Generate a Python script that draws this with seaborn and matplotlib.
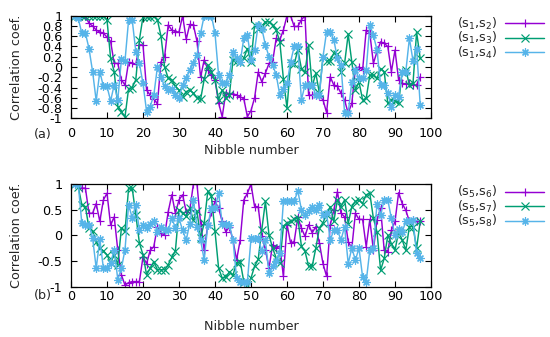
import numpy as np
import pandas as pd
import matplotlib
matplotlib.use("Agg")
import matplotlib.pyplot as plt
import seaborn as sns

# ---------------- data ----------------
s1_s2 = [1.0, 1.0, 1.0, 1.0, 0.85, 0.8, 0.72, 0.68, 0.66, 0.58,
         0.5, 0.07, 0.07, -0.25, -0.35, 0.1, 0.07, 0.05, 0.43, 0.43,
         -0.45, -0.55, -0.62, -0.72, 0.1, 0.2, 0.82, 0.72, 0.69, 0.68,
         1.0, 0.54, 0.83, 0.82, 0.5, -0.2, 0.14, -0.05, -0.16, -0.25,
         -0.7, -0.97, -0.5, -0.52, -0.52, -0.55, -0.58, -0.62, -0.97, -0.85,
         -0.6, -0.1, -0.29, -0.12, 0.07, 0.1, 0.56, 0.53, 0.72, 1.0,
         1.0, 0.79, 0.79, 0.92, 1.0, -0.55, -0.55, -0.55, -0.57, -0.64,
         -0.89, -0.19, -0.35, -0.38, -0.51, -0.65, -0.9, -0.71, -0.03, 0.0,
         -0.06, 0.72, 0.66, 0.07, 0.3, 0.49, 0.46, 0.4, -0.09, 0.33,
         -0.25, -0.32, -0.33, -0.32, -0.35, -0.35, -0.19]
s1_s3 = [1.0, 1.0, 1.0, 1.0, 1.0, 1.0, 1.0, 1.0, 1.0, 0.92,
         0.17, -0.09, -0.77, -0.87, -0.97, -0.42, -0.4, -0.25, 0.53, 0.98,
         0.98, 0.98, 1.0, 0.92, 0.6, 0.0, -0.22, -0.25, -0.38, -0.45,
         -0.58, -0.48, -0.45, -0.51, -0.6, -0.63, -0.24, 0.04, -0.09, -0.25,
         -0.64, -0.45, -0.6, -0.55, 0.14, 0.12, 0.1, 0.17, 0.36, 0.1,
         0.82, 0.75, 0.8, 0.88, 0.88, 0.82, 0.72, 0.49, -0.23, -0.8,
         0.07, 0.05, 0.34, -0.03, -0.1, 0.43, -0.38, -0.12, -0.51, 0.2,
         0.12, 0.12, 0.27, 0.25, -0.09, 0.07, 0.64, 0.1, -0.45, -0.29,
         -0.64, -0.61, -0.16, -0.16, -0.22, -0.03, -0.09, -0.71, -0.64, -0.66,
         -0.71, -0.09, -0.05, -0.35, -0.32, 0.68, 0.17]
s1_s4 = [1.0, 0.95, 0.66, 0.66, 0.36, -0.09, -0.66, -0.09, -0.38, -0.38,
         -0.66, -0.35, -0.64, 0.15, 0.12, 0.92, 0.92, 0.3, 0.07, -0.32,
         -0.87, -0.77, -0.55, 0.0, -0.19, -0.38, -0.45, -0.42, -0.55, -0.6,
         -0.35, -0.22, -0.06, 0.07, 0.23, 0.66, 1.0, 1.0, 1.0, 0.66,
         -0.16, -0.31, -0.31, -0.16, 0.3, 0.17, 0.1, 0.56, 0.62, 0.14,
         0.33, 0.82, 0.75, 0.43, 0.2, 0.04, -0.15, -0.55, -0.42, -0.32,
         0.1, 0.4, 0.4, -0.64, -0.35, -0.35, -0.35, -0.55, -0.55, 0.2,
         0.69, 0.69, 0.53, 0.17, 0.04, -0.9, -0.9, -0.29, -0.06, -0.22,
         -0.22, -0.06, 0.82, 0.62, 0.33, -0.35, -0.35, -0.51, -0.77, -0.55,
         -0.58, -0.09, -0.09, 0.56, 0.12, 0.36, -0.74]

s5_s6 = [1.0, 1.0, 0.92, 0.92, 0.43, 0.43, 0.62, 0.27, 0.69, 0.82,
         0.2, 0.36, -0.29, -0.77, -0.97, -0.92, -0.9, -0.9, -0.9, -0.42,
         -0.55, -0.29, -0.22, 0.17, 0.05, 0.0, 0.46, 0.79, 0.43, 0.69,
         0.79, 0.46, 0.5, 1.0, 1.0, 0.23, -0.29, 0.2, 0.46, 0.66,
         0.53, 0.27, 0.07, 0.17, -0.1, -0.48, -0.09, 0.69, 0.82, 1.0,
         0.56, 0.56, -0.02, -0.28, -0.64, -0.18, -0.25, -0.21, -0.8, 0.21,
         -0.15, -0.12, 0.35, 0.14, -0.02, 0.21, 0.05, 0.17, -0.15, -0.55,
         -0.8, 0.2, 0.49, 0.85, 0.43, 0.36, -0.12, -0.25, 0.43, 0.31,
         0.31, -0.22, 0.31, -0.29, 0.3, 0.53, -0.29, -0.32, 0.1, 0.27,
         0.83, 0.62, 0.49, 0.27, 0.3, 0.27, 0.27]
s5_s7 = [1.0, 0.95, 0.6, 0.56, 0.14, 0.08, -0.12, -0.25, -0.3, -0.38,
         -0.54, -0.38, -0.57, 0.14, 0.08, 0.92, 0.92, 0.4, -0.15, -0.38,
         -0.77, -0.64, -0.51, -0.67, -0.67, -0.67, -0.57, -0.43, -0.3, 0.5,
         0.44, 0.37, 0.53, 0.3, 0.47, -0.05, 0.24, 0.86, 0.76, 0.08,
         -0.64, -0.83, -0.82, -0.71, -0.77, -0.54, -0.51, -0.9, -0.96, -0.83,
         -0.6, -0.47, 0.11, 0.66, 0.01, -0.25, -0.44, -0.54, 0.18, 0.24,
         0.27, 0.31, 0.34, -0.21, -0.31, -0.6, -0.6, -0.25, 0.14, 0.25,
         0.4, 0.56, 0.27, 0.69, 0.56, 0.69, 0.23, 0.56, 0.66, 0.69,
         0.62, 0.79, 0.82, 0.33, 0.07, -0.68, -0.45, 0.0, -0.16, -0.29,
         0.07, -0.09, -0.29, 0.17, 0.17, -0.25, 0.27]
s5_s8 = [1.0, 1.0, 0.24, 0.21, 0.21, -0.05, -0.64, -0.08, -0.64, -0.64,
         -0.54, -0.28, -0.86, -0.64, -0.28, 0.6, 0.34, 0.6, 0.1, 0.2,
         0.14, 0.23, 0.27, 0.07, 0.17, 0.1, 0.1, 0.33, 0.15, 0.33,
         0.1, -0.09, 0.23, 0.69, 0.17, -0.09, -0.48, 0.2, 0.53, 0.53,
         0.82, 0.23, 0.23, 0.2, -0.09, -0.84, -0.9, -0.9, -0.9, -0.06,
         -0.08, -0.06, -0.3, -0.1, -0.73, -0.6, -0.5, -0.35, 0.66, 0.66,
         0.66, 0.66, 0.87, 0.5, 0.4, 0.47, 0.56, 0.5, 0.6, 0.4,
         0.43, -0.09, 0.1, 0.1, -0.09, 0.17, -0.55, -0.25, -0.48, -0.25,
         -0.81, -0.9, -0.29, -0.25, 0.62, 0.4, 0.69, 0.69, 0.33, 0.0,
         0.13, 0.07, 0.27, 0.27, 0.3, -0.35, -0.45]

labels_a = ["(s$_1$,s$_2$)", "(s$_1$,s$_3$)", "(s$_1$,s$_4$)"]
labels_b = ["(s$_5$,s$_6$)", "(s$_5$,s$_7$)", "(s$_5$,s$_8$)"]
yticks_a = [1, 0.8, 0.6, 0.4, 0.2, 0, -0.2, -0.4, -0.6, -0.8, -1]
yticks_b = [1, 0.5, 0, -0.5, -1]
xticks = [0, 10, 20, 30, 40, 50, 60, 70, 80, 90, 100]

# ---------------- style ----------------
FS = 9.2
sns.set_theme(style="white")
plt.rcParams.update({
    "font.family": ["DejaVu Sans"],
    "mathtext.fontset": "dejavusans",
    "mathtext.default": "regular",
    "font.size": FS,
    "axes.unicode_minus": False,
    "axes.edgecolor": "black",
    "axes.linewidth": 0.9,
    "xtick.direction": "in",
    "ytick.direction": "in",
    "xtick.top": True,
    "ytick.right": True,
    "xtick.bottom": True,
    "ytick.left": True,
    "xtick.major.size": 4,
    "ytick.major.size": 4,
    "xtick.major.width": 0.8,
    "ytick.major.width": 0.8,
    "xtick.color": "black",
    "ytick.color": "black",
    "xtick.labelsize": FS,
    "ytick.labelsize": FS,
    "ytick.major.pad": 6.3,
})

colors = ["#9400D3", "#009E73", "#56B4E9"]
markers = ["+", "x", (8, 2, 0)]

fig = plt.figure(figsize=(5.5, 3.37), dpi=100)
W, H = 550, 337
ax1 = fig.add_axes([71 / W, 1 - 118.3 / H, 360 / W, 102.6 / H])
ax2 = fig.add_axes([71 / W, 1 - 286.7 / H, 360 / W, 102.7 / H])


def draw(ax, series, labels, yticks, tag, xpad, xlab_y, tag_y, leg_y):
    for vals, lab, col, mk in zip(series, labels, colors, markers):
        nib = np.arange(1, len(vals) + 1)
        df = pd.DataFrame({"nibble": nib, "corr": vals})
        sns.lineplot(data=df, x="nibble", y="corr", ax=ax, color=col,
                     marker=mk, markersize=5.8, markeredgecolor=col,
                     markerfacecolor=col, markeredgewidth=0.85,
                     linewidth=1.05, label=lab)
    ax.set_xlim(0, 100)
    ax.set_ylim(-1, 1)
    ax.set_xticks(xticks)
    ax.set_yticks(yticks)
    ax.set_yticklabels([("%g" % t) for t in yticks])
    ax.tick_params(axis="x", pad=xpad)
    ax.set_xlabel("Nibble number", fontsize=FS)
    ax.set_ylabel("Correlation coef.", fontsize=FS)
    ax.xaxis.set_label_coords(0.5, xlab_y)
    ax.yaxis.set_label_coords(-0.133, 0.5)
    ax.text(-0.078, tag_y, tag, transform=ax.transAxes, fontsize=FS,
            ha="center", va="center")
    h, l = ax.get_legend_handles_labels()
    ax.legend(h, l, loc="upper left", bbox_to_anchor=(1.058, leg_y),
              frameon=False, markerfirst=False, handlelength=3.05,
              handletextpad=0.6, labelspacing=-0.12, fontsize=FS,
              borderaxespad=0, numpoints=1)


draw(ax1, [s1_s2, s1_s3, s1_s4], labels_a, yticks_a, "(a)",
     xpad=6.0, xlab_y=-0.25, tag_y=-0.155, leg_y=1.05)
draw(ax2, [s5_s6, s5_s7, s5_s8], labels_b, yticks_b, "(b)",
     xpad=2.5, xlab_y=-0.325, tag_y=-0.081, leg_y=1.05)

fig.savefig("out.png", dpi=100)
